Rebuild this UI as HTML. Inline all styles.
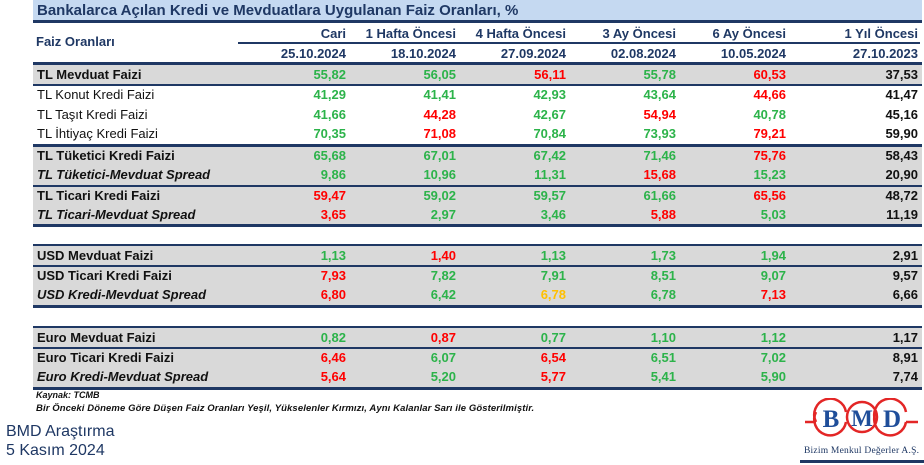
<!DOCTYPE html>
<html><head><meta charset="utf-8"><style>
body{margin:0;width:924px;height:465px;background:#fff;position:relative;overflow:hidden;font-family:"Liberation Sans",Arial,sans-serif}
div{position:absolute;box-sizing:border-box}
.bar{left:33px;width:889px;background:#1f3864}
.g{left:33px;width:889px;background:#d9d9d9}
.r{left:0;width:924px;font-size:13px;font-weight:bold;line-height:19px;height:19px}
.r span{position:absolute;top:0;text-align:right;width:100px}
.l{position:absolute;left:37px;color:#111}
.n{font-weight:normal}
.i{font-style:italic}
.G{color:#2cb34a}.R{color:#ff0000}.K{color:#111}.Y{color:#ffc000}
.h{font-size:13px;font-weight:bold;color:#1f3864;text-align:right;width:110px}
</style></head><body>
<div style="left:33px;top:0;width:889px;height:20px;background:#c5d9f1"></div>
<div style="left:37px;top:1px;font-size:15px;font-weight:bold;color:#1f3864;line-height:19px">Bankalarca Açılan Kredi ve Mevduatlara Uygulanan Faiz Oranları, %</div>
<div class="bar" style="top:20px;height:3px"></div>
<div style="left:36px;top:34px;font-size:13px;font-weight:bold;color:#1f3864">Faiz Oranları</div>
<div style="left:238px;top:42px;width:682px;height:2px;background:#1f3864"></div>
<div class="h" style="left:236px;top:26px">Cari</div>
<div class="h" style="left:346px;top:26px">1 Hafta Öncesi</div>
<div class="h" style="left:456px;top:26px">4 Hafta Öncesi</div>
<div class="h" style="left:566px;top:26px">3 Ay Öncesi</div>
<div class="h" style="left:676px;top:26px">6 Ay Öncesi</div>
<div class="h" style="left:808px;top:26px">1 Yıl Öncesi</div>
<div class="h" style="left:236px;top:46px">25.10.2024</div>
<div class="h" style="left:346px;top:46px">18.10.2024</div>
<div class="h" style="left:456px;top:46px">27.09.2024</div>
<div class="h" style="left:566px;top:46px">02.08.2024</div>
<div class="h" style="left:676px;top:46px">10.05.2024</div>
<div class="h" style="left:808px;top:46px">27.10.2023</div>

<div class="bar" style="top:62px;height:3px"></div>
<div class="g" style="top:65px;height:19px"></div>
<div class="bar" style="top:84px;height:2px"></div>
<div class="bar" style="top:144px;height:3px"></div>
<div class="g" style="top:147px;height:38px"></div>
<div class="bar" style="top:185px;height:2px"></div>
<div class="g" style="top:187px;height:37px"></div>
<div class="bar" style="top:224px;height:3px"></div>
<div class="bar" style="top:244px;height:2px"></div>
<div class="g" style="top:246px;height:20px"></div>
<div class="bar" style="top:265px;height:2px"></div>
<div class="g" style="top:267px;height:38px"></div>
<div class="bar" style="top:305px;height:3px"></div>
<div class="bar" style="top:326px;height:2px"></div>
<div class="g" style="top:328px;height:19px"></div>
<div class="bar" style="top:347px;height:2px"></div>
<div class="g" style="top:349px;height:38px"></div>
<div class="bar" style="top:387px;height:3px"></div>

<div class="r" style="top:65px"><b class="l">TL Mevduat Faizi</b><span class="G" style="left:246px">55,82</span><span class="G" style="left:356px">56,05</span><span class="R" style="left:466px">56,11</span><span class="G" style="left:576px">55,78</span><span class="R" style="left:686px">60,53</span><span class="K" style="left:818px">37,53</span></div>
<div class="r" style="top:85px"><b class="l n">TL Konut Kredi Faizi</b><span class="G" style="left:246px">41,29</span><span class="G" style="left:356px">41,41</span><span class="G" style="left:466px">42,93</span><span class="G" style="left:576px">43,64</span><span class="R" style="left:686px">44,66</span><span class="K" style="left:818px">41,47</span></div>
<div class="r" style="top:105px"><b class="l n">TL Taşıt Kredi Faizi</b><span class="G" style="left:246px">41,66</span><span class="R" style="left:356px">44,28</span><span class="G" style="left:466px">42,67</span><span class="R" style="left:576px">54,94</span><span class="G" style="left:686px">40,78</span><span class="K" style="left:818px">45,16</span></div>
<div class="r" style="top:124px"><b class="l n">TL İhtiyaç Kredi Faizi</b><span class="G" style="left:246px">70,35</span><span class="R" style="left:356px">71,08</span><span class="G" style="left:466px">70,84</span><span class="G" style="left:576px">73,93</span><span class="R" style="left:686px">79,21</span><span class="K" style="left:818px">59,90</span></div>
<div class="r" style="top:146px"><b class="l">TL Tüketici Kredi Faizi</b><span class="G" style="left:246px">65,68</span><span class="G" style="left:356px">67,01</span><span class="G" style="left:466px">67,42</span><span class="G" style="left:576px">71,46</span><span class="R" style="left:686px">75,76</span><span class="K" style="left:818px">58,43</span></div>
<div class="r" style="top:165px"><b class="l i">TL Tüketici-Mevduat Spread</b><span class="G" style="left:246px">9,86</span><span class="G" style="left:356px">10,96</span><span class="G" style="left:466px">11,31</span><span class="R" style="left:576px">15,68</span><span class="G" style="left:686px">15,23</span><span class="K" style="left:818px">20,90</span></div>
<div class="r" style="top:186px"><b class="l">TL Ticari Kredi Faizi</b><span class="R" style="left:246px">59,47</span><span class="G" style="left:356px">59,02</span><span class="G" style="left:466px">59,57</span><span class="G" style="left:576px">61,66</span><span class="R" style="left:686px">65,56</span><span class="K" style="left:818px">48,72</span></div>
<div class="r" style="top:205px"><b class="l i">TL Ticari-Mevduat Spread</b><span class="R" style="left:246px">3,65</span><span class="G" style="left:356px">2,97</span><span class="G" style="left:466px">3,46</span><span class="R" style="left:576px">5,88</span><span class="G" style="left:686px">5,03</span><span class="K" style="left:818px">11,19</span></div>
<div class="r" style="top:246px"><b class="l">USD Mevduat Faizi</b><span class="G" style="left:246px">1,13</span><span class="R" style="left:356px">1,40</span><span class="G" style="left:466px">1,13</span><span class="G" style="left:576px">1,73</span><span class="G" style="left:686px">1,94</span><span class="K" style="left:818px">2,91</span></div>
<div class="r" style="top:266px"><b class="l">USD Ticari Kredi Faizi</b><span class="R" style="left:246px">7,93</span><span class="G" style="left:356px">7,82</span><span class="G" style="left:466px">7,91</span><span class="G" style="left:576px">8,51</span><span class="G" style="left:686px">9,07</span><span class="K" style="left:818px">9,57</span></div>
<div class="r" style="top:285px"><b class="l i">USD Kredi-Mevduat Spread</b><span class="R" style="left:246px">6,80</span><span class="G" style="left:356px">6,42</span><span class="Y" style="left:466px">6,78</span><span class="G" style="left:576px">6,78</span><span class="R" style="left:686px">7,13</span><span class="K" style="left:818px">6,66</span></div>
<div class="r" style="top:328px"><b class="l">Euro Mevduat Faizi</b><span class="G" style="left:246px">0,82</span><span class="R" style="left:356px">0,87</span><span class="G" style="left:466px">0,77</span><span class="G" style="left:576px">1,10</span><span class="G" style="left:686px">1,12</span><span class="K" style="left:818px">1,17</span></div>
<div class="r" style="top:348px"><b class="l">Euro Ticari Kredi Faizi</b><span class="R" style="left:246px">6,46</span><span class="G" style="left:356px">6,07</span><span class="R" style="left:466px">6,54</span><span class="G" style="left:576px">6,51</span><span class="G" style="left:686px">7,02</span><span class="K" style="left:818px">8,91</span></div>
<div class="r" style="top:367px"><b class="l i">Euro Kredi-Mevduat Spread</b><span class="R" style="left:246px">5,64</span><span class="G" style="left:356px">5,20</span><span class="R" style="left:466px">5,77</span><span class="G" style="left:576px">5,41</span><span class="G" style="left:686px">5,90</span><span class="K" style="left:818px">7,74</span></div>

<div style="left:36px;top:390px;font-size:9px;font-weight:bold;font-style:italic;color:#111">Kaynak: TCMB</div>
<div style="left:36px;top:403px;font-size:9.5px;font-weight:bold;font-style:italic;color:#111;letter-spacing:0.1px">Bir Önceki Döneme Göre Düşen Faiz Oranları Yeşil, Yükselenler Kırmızı, Aynı Kalanlar Sarı ile Gösterilmiştir.</div>
<div style="left:6px;top:422px;font-size:16px;color:#1f3864;line-height:19px">BMD Araştırma<br>5 Kasım 2024</div>

<svg style="position:absolute;left:800px;top:398px" width="124" height="67">
<g fill="none" stroke="#e32626" stroke-width="2.5">
<path d="M5 24 H16"/>
<path d="M16 24 A16 16 0 1 1 46 14"/>
<path d="M16 14 A16 16 0 1 0 46 24"/>
<circle cx="62" cy="19" r="15"/>
<path d="M106 24 A16 16 0 1 1 76 14" />
<path d="M106 14 A16 16 0 1 0 76 24"/>
<path d="M106 24 H118"/>
</g>
<text x="31" y="29" font-family="Liberation Serif,serif" font-size="25" font-weight="bold" fill="#1f4e9a" text-anchor="middle">B</text>
<text x="62" y="28" font-family="Liberation Serif,serif" font-size="23" font-weight="bold" fill="#1f4e9a" text-anchor="middle">M</text>
<text x="92" y="29" font-family="Liberation Serif,serif" font-size="25" font-weight="bold" fill="#1f4e9a" text-anchor="middle">D</text>
<text x="4" y="55" font-family="Liberation Serif,serif" font-size="9.5" fill="#1f3864" textLength="115">Bizim Menkul Değerler A.Ş.</text>
<rect x="0" y="62" width="124" height="3" fill="#1f3864"/>
</svg>
</body></html>
